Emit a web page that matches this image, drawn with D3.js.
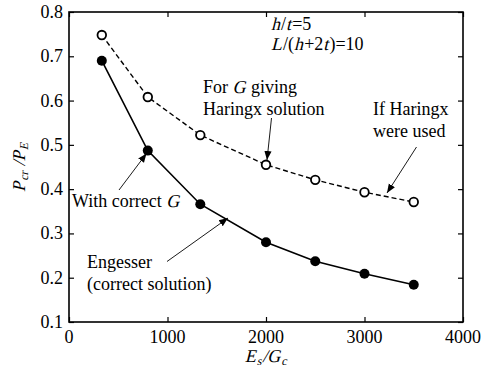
<!DOCTYPE html>
<html>
<head>
<meta charset="utf-8">
<script src="https://cdn.jsdelivr.net/npm/d3@7"></script>
<style>
  body { margin: 0; background: #fff; }
</style>
</head>
<body>
<svg id="chart" width="482" height="370"></svg>
<script>
// Buckling load ratio vs modulus ratio
const ratioEG = [333, 800, 1333, 2000, 2500, 3000, 3500];
const haringx = [0.748, 0.608, 0.522, 0.455, 0.421, 0.393, 0.371];
const engesser = [0.690, 0.487, 0.366, 0.280, 0.237, 0.209, 0.184];
const xTicks = [0, 1000, 2000, 3000, 4000];
const yTicks = [0.1, 0.2, 0.3, 0.4, 0.5, 0.6, 0.7, 0.8];

const FONT = "Liberation Serif";
const svg = d3.select("#chart");
const m = { left: 69, right: 463, top: 12, bottom: 322 };

const x = d3.scaleLinear().domain([0, 4000]).range([m.left, m.right]);
const y = d3.scaleLinear().domain([0.1, 0.8]).range([m.bottom, m.top]);

const fs = 18;
const subFs = 12;

// labels are built piece by piece; italic pieces are slanted with a skew
const textLayer = svg.append("g").attr("font-family", "sans-serif").attr("font-size", 10);

function txt(xp, yp, parts, anchor, rot) {
  const g = textLayer.append("g")
    .attr("transform", `translate(${xp},${yp})` + (rot ? ` rotate(${rot})` : ""));
  const inner = g.append("g");
  let cx = 0;
  parts.forEach(p => {
    const size = p.sub ? subFs : fs;
    const dy = p.sub ? 3 : 0;
    const t = inner.append("text")
      .attr("font-family", FONT).attr("font-size", size).attr("fill", "#000")
      .attr("transform", `translate(${cx},${dy})` + (p.i ? " skewX(-14)" : ""))
      .text(p.t.replace(/ /g, "\u00a0"));
    cx += t.node().getComputedTextLength();
    if (p.i) cx += size * 0.06;
  });
  if (anchor === "middle") inner.attr("transform", `translate(${-cx / 2},0)`);
  if (anchor === "end") inner.attr("transform", `translate(${-cx},0)`);
  return g;
}

// axes: tick marks pointing inward on all four sides
function styleAxis(g) {
  g.selectAll(".domain").remove();
  g.selectAll(".tick text").remove();
  g.selectAll(".tick line").attr("stroke", "#000").attr("stroke-width", 1.2);
}
svg.append("g").attr("transform", `translate(0,${m.bottom})`)
  .call(d3.axisBottom(x).tickValues(xTicks).tickSizeInner(-5).tickSizeOuter(0))
  .call(styleAxis);
svg.append("g").attr("transform", `translate(0,${m.top})`)
  .call(d3.axisTop(x).tickValues(xTicks).tickSizeInner(-5).tickSizeOuter(0))
  .call(styleAxis);
svg.append("g").attr("transform", `translate(${m.left},0)`)
  .call(d3.axisLeft(y).tickValues(yTicks).tickSizeInner(-5).tickSizeOuter(0))
  .call(styleAxis);
svg.append("g").attr("transform", `translate(${m.right},0)`)
  .call(d3.axisRight(y).tickValues(yTicks).tickSizeInner(-5).tickSizeOuter(0))
  .call(styleAxis);

// tick labels
const fx = d3.format("d"), fy = d3.format(".1f");
xTicks.forEach(v => txt(x(v), m.bottom + 21, [{ t: fx(v) }], "middle"));
yTicks.forEach(v => txt(m.left - 6, y(v) + 6, [{ t: fy(v) }], "end"));

// frame
svg.append("rect")
  .attr("x", m.left).attr("y", m.top)
  .attr("width", m.right - m.left).attr("height", m.bottom - m.top)
  .attr("fill", "none").attr("stroke", "#000").attr("stroke-width", 1.6);

// series lines
const line = d3.line().x(d => x(d[0])).y(d => y(d[1]));
const hData = ratioEG.map((v, i) => [v, haringx[i]]);
const eData = ratioEG.map((v, i) => [v, engesser[i]]);

svg.append("path").datum(hData).attr("d", line)
  .attr("fill", "none").attr("stroke", "#000").attr("stroke-width", 1.4)
  .attr("stroke-dasharray", "5,3");
svg.append("path").datum(eData).attr("d", line)
  .attr("fill", "none").attr("stroke", "#000").attr("stroke-width", 1.6);

svg.selectAll(".hpt").data(hData).enter().append("circle")
  .attr("cx", d => x(d[0])).attr("cy", d => y(d[1])).attr("r", 4.3)
  .attr("fill", "#fff").attr("stroke", "#000").attr("stroke-width", 1.8);
svg.selectAll(".ept").data(eData).enter().append("circle")
  .attr("cx", d => x(d[0])).attr("cy", d => y(d[1])).attr("r", 5)
  .attr("fill", "#000");

// arrowhead marker
svg.append("defs").append("marker")
  .attr("id", "arr").attr("viewBox", "0 0 10 10")
  .attr("refX", 10).attr("refY", 5)
  .attr("markerWidth", 9).attr("markerHeight", 9)
  .attr("markerUnits", "userSpaceOnUse")
  .attr("orient", "auto")
  .append("path").attr("d", "M0,1 L10,5 L0,9 Z").attr("fill", "#000");

const arrows = [
  [271.5, 118, 267, 160],
  [416.5, 147, 387, 193],
  [119, 190, 146.5, 153.5],
  [167, 261.5, 228, 218]
];
svg.selectAll(".arrow").data(arrows).enter().append("line")
  .attr("x1", d => d[0]).attr("y1", d => d[1])
  .attr("x2", d => d[2]).attr("y2", d => d[3])
  .attr("stroke", "#000").attr("stroke-width", 0.9)
  .attr("marker-end", "url(#arr)");

// annotations
txt(271, 30, [{ t: "h", i: 1 }, { t: "/" }, { t: "t", i: 1 }, { t: "=5" }]);
txt(271, 50, [{ t: "L", i: 1 }, { t: "/(" }, { t: "h", i: 1 }, { t: "+2" }, { t: "t", i: 1 }, { t: ")=10" }]);
txt(203, 93, [{ t: "For " }, { t: "G", i: 1 }, { t: " giving" }]);
txt(203, 115, [{ t: "Haringx solution" }]);
txt(373, 115, [{ t: "If Haringx" }]);
txt(373, 137, [{ t: "were used" }]);
txt(72, 207, [{ t: "With correct " }, { t: "G", i: 1 }]);
txt(87, 268, [{ t: "Engesser" }]);
txt(87, 290, [{ t: "(correct solution)" }]);

// axis titles
txt(x(2000), 362, [{ t: "E", i: 1 }, { t: "s", i: 1, sub: 1 }, { t: "/G", i: 1 }, { t: "c", i: 1, sub: 1 }], "middle");
txt(25, (m.top + m.bottom) / 2, [{ t: "P", i: 1 }, { t: "cr", i: 1, sub: 1 }, { t: " /P", i: 1 }, { t: "E", i: 1, sub: 1 }], "middle", -90);
</script>
</body>
</html>
